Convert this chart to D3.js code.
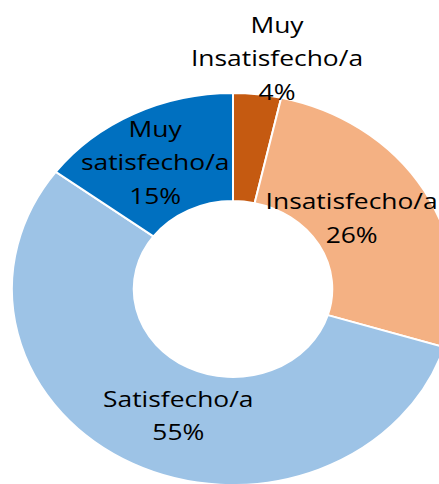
<!DOCTYPE html>
<html><head><meta charset="utf-8">
<script src="https://cdn.jsdelivr.net/npm/d3@7"></script>
<style>html,body{margin:0;padding:0;background:#fff;overflow:hidden}</style>
</head><body>
<svg id="c" width="439" height="484"></svg>
<script>
const categories = ["Muy Insatisfecho/a", "Insatisfecho/a", "Satisfecho/a", "Muy satisfecho/a"];
const values = [3.5, 26.3, 55.4, 14.8];
const percentLabels = ["4%", "26%", "55%", "15%"];
const labelLines = [["Muy", "Insatisfecho/a", "4%"], ["Insatisfecho/a", "26%"], ["Satisfecho/a", "55%"], ["Muy", "satisfecho/a", "15%"]];
const colors = ["#C55A11", "#F4B183", "#9DC3E6", "#0070C0"];

const svg = d3.select("#c");
const cx = 233, cy = 289, sx = 1.128;
const rOuter = 196, rInner = 88;
const pie = d3.pie().sort(null).value(d => d)(values);
const arc = d3.arc().innerRadius(rInner).outerRadius(rOuter);
const g = svg.append("g").attr("transform", `translate(${cx},${cy}) scale(${sx},1)`);
g.selectAll("path").data(pie).join("path")
  .attr("d", arc)
  .attr("fill", (d, i) => colors[i])
  .attr("stroke", "#fff").attr("stroke-width", 2)
  .attr("vector-effect", "non-scaling-stroke");

// label anchor offsets relative to the arc centroid (layout only)
const labelArc = d3.arc().innerRadius((rInner + rOuter) / 2).outerRadius((rInner + rOuter) / 2);
const offsets = [[0, 0], [-20, 0], [18, 0], [-6, 0]];
const lineH = 33.5;
pie.forEach((p, i) => {
  let [x, y] = labelArc.centroid(p);
  x = cx + x * sx + offsets[i][0];
  y = cy + y + offsets[i][1];
  const lines = labelLines[i];
  let firstBase;
  if (i === 0) { x = 277; firstBase = 33; }
  else firstBase = y - (lines.length - 1) * lineH / 2 + 8;
  const lg = svg.append("g").attr("transform", `translate(${x},0) scale(1.2,1)`);
  lines.forEach((t, k) => {
    lg.append("text").attr("x", 0).attr("y", firstBase + k * lineH)
      .attr("text-anchor", "middle")
      .attr("font-family", "Open Sans, sans-serif").attr("font-size", 22)
      .attr("fill", "#000").text(t);
  });
});
</script>
</body></html>
